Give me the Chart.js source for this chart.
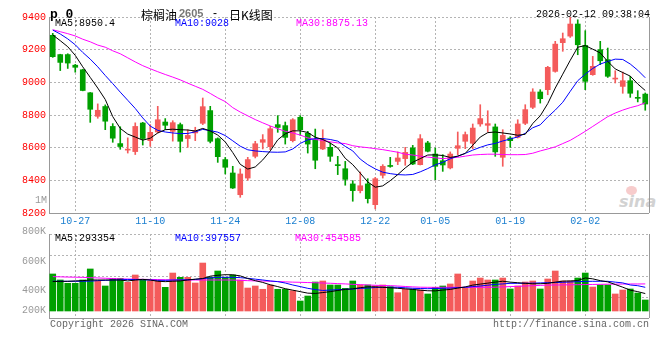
<!DOCTYPE html>
<html>
<head>
<meta charset="utf-8">
<script src="https://cdn.jsdelivr.net/npm/chart.js@4.4.1/dist/chart.umd.min.js"></script>
<style>
  body { margin: 0; background: #fff; }
  #wrap { position: relative; width: 660px; height: 360px; overflow: hidden; font-family: "Liberation Mono", monospace; font-size: 10px; }
  #wrap canvas { position: absolute; left: 0; }
  .t { position: absolute; white-space: nowrap; line-height: 1; }
  .r { text-align: right; }
</style>
</head>
<body>
<div id="wrap">
  <!-- sina watermark, sits under the candles -->
  <div class="t" style="left:626px;top:186px;width:11px;height:9px;border-radius:50%;background:#f7cccc;"></div>
  <span class="t" style="left:619px;top:192px;font:italic bold 16px 'DejaVu Sans';color:#d2d2d2;">sina</span>

  <canvas id="kline" width="660" height="232" style="top:0"></canvas>
  <canvas id="vol" width="660" height="90" style="top:230px"></canvas>

  <span class="t" style="left:50px;top:7px;font:bold 13px 'Liberation Mono';">p 0</span>
  <span class="t" style="left:141px;top:6px;font:12px 'Noto Sans CJK SC';">棕榈油</span>
  <span class="t" style="left:179px;top:7px;font:bold 11px 'Liberation Sans';color:#777;">2605</span>
  <span class="t" style="left:213px;top:6px;font:12px 'Liberation Sans';">-</span>
  <span class="t" style="left:229px;top:6px;font:12px 'Noto Sans CJK SC';">日K线图</span>
  <span class="t r" style="right:10px;top:10px;">2026-02-12 09:38:04</span>

  <span class="t" style="left:55px;top:19px;color:#000;">MA5:8950.4</span>
  <span class="t" style="left:175px;top:19px;color:#0000ff;">MA10:9028</span>
  <span class="t" style="left:296px;top:19px;color:#ff00ff;">MA30:8875.13</span>
  <span class="t r" style="right:613px;top:196px;color:#999;">1M</span>

  <span class="t" style="left:55px;top:234px;color:#000;">MA5:293354</span>
  <span class="t" style="left:175px;top:234px;color:#0000ff;">MA10:397557</span>
  <span class="t" style="left:295px;top:234px;color:#ff00ff;">MA30:454585</span>

  <span class="t r" style="right:614px;top:227px;color:#999;">800K</span>
  <span class="t r" style="right:614px;top:257px;color:#999;">600K</span>
  <span class="t r" style="right:614px;top:286px;color:#999;">400K</span>
  <span class="t r" style="right:614px;top:306px;color:#999;">200K</span>

  <span class="t" style="left:50px;top:320px;color:#666;">Copyright 2026 SINA.COM</span>
  <span class="t r" style="right:11px;top:320px;color:#666;">http://finance.sina.com.cn</span>
</div>

<script>
(function () {
    "use strict";

    // Trading days
    const dates = [
        '10-22', '10-23', '10-24', '10-27', '10-28', '10-29', '10-30', '10-31',
        '11-03', '11-04', '11-05', '11-06', '11-07', '11-10', '11-11', '11-12', '11-13', '11-14',
        '11-17', '11-18', '11-19', '11-20', '11-21', '11-24', '11-25', '11-26', '11-27', '11-28',
        '12-01', '12-02', '12-03', '12-04', '12-05', '12-08', '12-09', '12-10', '12-11', '12-12',
        '12-15', '12-16', '12-17', '12-18', '12-19', '12-22', '12-23', '12-24', '12-25', '12-26',
        '12-29', '12-30', '12-31',
        '01-05', '01-06', '01-07', '01-08', '01-09', '01-12', '01-13', '01-14', '01-15', '01-16',
        '01-19', '01-20', '01-21', '01-22', '01-23', '01-26', '01-27', '01-28', '01-29', '01-30',
        '02-02', '02-03', '02-04', '02-05', '02-06', '02-09', '02-10', '02-11', '02-12'
    ];
    const tickDates = ['10-27', '11-10', '11-24', '12-08', '12-22', '01-05', '01-19', '02-02'];

    // Daily K line
    const open = [
        9288, 9170, 9170, 9105, 9077, 8936, 8792, 8852, 8730, 8625,
        8585, 8576, 8751, 8643, 8696, 8757, 8700, 8741, 8656, 8690,
        8749, 8827, 8655, 8527, 8445, 8312, 8414, 8547, 8633, 8606,
        8741, 8735, 8643, 8786, 8688, 8649, 8592, 8602, 8495, 8471,
        8378, 8337, 8378, 8251, 8431, 8488, 8516, 8533, 8598, 8496,
        8629, 8561, 8520, 8476, 8596, 8639, 8627, 8745, 8737, 8727,
        8541, 8659, 8663, 8749, 8847, 8941, 8955, 9067, 9243, 9283,
        9357, 9226, 9047, 9200, 9139, 9020, 8975, 9010, 8906, 8928
    ];
    const high = [
        9300, 9172, 9175, 9110, 9080, 8938, 8868, 8862, 8747, 8728,
        8660, 8752, 8755, 8741, 8853, 8778, 8765, 8751, 8710, 8725,
        8904, 8853, 8660, 8540, 8486, 8470, 8541, 8639, 8680, 8731,
        8796, 8757, 8778, 8796, 8700, 8714, 8710, 8629, 8547, 8516,
        8398, 8451, 8410, 8418, 8496, 8541, 8574, 8602, 8614, 8680,
        8639, 8598, 8557, 8574, 8696, 8696, 8745, 8863, 8826, 8745,
        8710, 8668, 8771, 8863, 8961, 8955, 9098, 9251, 9302, 9398,
        9383, 9316, 9159, 9251, 9210, 9071, 9063, 9037, 8949, 8935
    ];
    const low = [
        9153, 9072, 9085, 9062, 8948, 8755, 8780, 8710, 8633, 8590,
        8567, 8558, 8616, 8608, 8690, 8712, 8640, 8573, 8602, 8643,
        8741, 8629, 8510, 8439, 8350, 8296, 8400, 8537, 8592, 8588,
        8694, 8622, 8635, 8676, 8567, 8471, 8588, 8516, 8435, 8370,
        8272, 8323, 8261, 8225, 8414, 8480, 8496, 8492, 8496, 8494,
        8574, 8404, 8455, 8470, 8557, 8594, 8594, 8731, 8696, 8547,
        8486, 8602, 8659, 8741, 8839, 8873, 8924, 9062, 9190, 9275,
        9169, 8955, 9043, 9108, 9030, 8996, 8933, 8908, 8880, 8829
    ];
    const close = [
        9157, 9122, 9118, 9092, 8950, 8835, 8829, 8762, 8658, 8607,
        8590, 8730, 8656, 8694, 8771, 8737, 8753, 8639, 8675, 8704,
        8851, 8639, 8545, 8480, 8353, 8439, 8527, 8624, 8649, 8716,
        8724, 8663, 8771, 8710, 8622, 8523, 8649, 8547, 8490, 8406,
        8337, 8367, 8288, 8410, 8486, 8485, 8537, 8571, 8500, 8655,
        8578, 8486, 8494, 8561, 8612, 8680, 8720, 8778, 8747, 8574,
        8675, 8643, 8745, 8833, 8941, 8900, 9092, 9234, 9267, 9357,
        9230, 9006, 9098, 9132, 9037, 9024, 9010, 8933, 8902, 8867
    ];

    // Moving averages as drawn
    const ma5 = [
        9290, 9255, 9218, 9165, 9095, 9030, 8965, 8895, 8790, 8718,
        8683, 8665, 8646, 8658, 8690, 8710, 8713, 8710, 8708, 8702,
        8718, 8702, 8677, 8635, 8570, 8498, 8469, 8482, 8525, 8580,
        8648, 8685, 8703, 8703, 8693, 8664, 8650, 8628, 8598, 8535,
        8496, 8444, 8390, 8358, 8366, 8398, 8435, 8476, 8511, 8533,
        8555, 8556, 8552, 8540, 8548, 8565, 8615, 8665, 8692, 8696,
        8690, 8684, 8676, 8682, 8748, 8795, 8870, 8965, 9050, 9135,
        9215, 9225, 9203, 9180, 9128, 9082, 9060, 9038, 8990, 8950
    ];
    const ma10 = [
        9320, 9296, 9266, 9230, 9183, 9142, 9095, 9042, 8992, 8940,
        8890, 8840, 8782, 8732, 8706, 8696, 8690, 8686, 8687, 8697,
        8712, 8704, 8695, 8674, 8642, 8609, 8587, 8580, 8576, 8573,
        8572, 8574, 8592, 8626, 8648, 8655, 8656, 8650, 8640, 8608,
        8580, 8530, 8496, 8470, 8450, 8441, 8435, 8433, 8436, 8452,
        8472, 8495, 8510, 8532, 8548, 8565, 8585, 8602, 8617, 8626,
        8641, 8653, 8666, 8688, 8722, 8740, 8788, 8830, 8878, 8945,
        9010, 9050, 9085, 9112, 9128, 9142, 9140, 9112, 9074, 9028
    ];
    const ma30 = [
        9322, 9310, 9298, 9284, 9264, 9248, 9228, 9215, 9193, 9175,
        9150, 9125, 9102, 9083, 9065, 9048, 9032, 9015, 8995, 8976,
        8957, 8932, 8905, 8882, 8845, 8818, 8795, 8772, 8752, 8733,
        8716, 8700, 8690, 8677, 8660, 8650, 8645, 8636, 8629, 8625,
        8612, 8605, 8600, 8594, 8588, 8580, 8572, 8560, 8555, 8548,
        8542, 8538, 8533, 8537, 8541, 8548, 8555, 8558, 8560, 8560,
        8558, 8557, 8557, 8558, 8566, 8580, 8592, 8605, 8625, 8645,
        8672, 8700, 8730, 8760, 8790, 8812, 8830, 8845, 8857, 8875
    ];

    // Volume, in thousands of lots
    const volume = [
        622, 521, 465, 465, 521, 706, 504, 420, 549, 549,
        482, 605, 521, 504, 504, 398, 638, 566, 566, 470,
        806, 566, 672, 566, 605, 521, 386, 420, 365, 437,
        365, 365, 341, 168, 252, 487, 504, 437, 437, 381,
        504, 437, 437, 420, 437, 408, 307, 365, 365, 353,
        286, 398, 420, 454, 622, 381, 504, 554, 521, 521,
        554, 370, 420, 487, 504, 370, 538, 672, 504, 504,
        554, 638, 403, 437, 437, 286, 353, 370, 302, 185
    ];
    const volMa5 = [
        495, 498, 499, 505, 510, 521, 521, 521, 521, 521,
        505, 520, 532, 520, 500, 493, 500, 505, 521, 535,
        545, 585, 600, 610, 608, 590, 545, 510, 480, 440,
        410, 375, 350, 325, 300, 295, 310, 325, 345, 362,
        372, 392, 405, 405, 398, 390, 381, 372, 362, 350,
        340, 338, 352, 362, 385, 405, 435, 452, 468, 485,
        500, 485, 475, 465, 457, 458, 465, 485, 502, 505,
        512, 555, 540, 510, 490, 445, 400, 350, 325, 293
    ];
    const volMa10 = [
        500, 499, 499, 499, 500, 502, 510, 515, 520, 525,
        530, 528, 525, 520, 515, 515, 520, 522, 525, 530,
        543, 555, 566, 566, 566, 560, 549, 535, 521, 505,
        493, 470, 437, 410, 381, 360, 345, 352, 358, 364,
        370, 380, 385, 395, 398, 398, 398, 390, 381, 378,
        375, 378, 381, 385, 392, 398, 410, 420, 433, 448,
        455, 465, 465, 466, 468, 472, 476, 478, 482, 487,
        493, 497, 499, 499, 499, 485, 472, 437, 425, 398
    ];
    const volMa30 = [
        577, 574, 570, 568, 565, 560, 555, 550, 545, 540,
        537, 534, 532, 530, 528, 525, 522, 521, 521, 521,
        521, 521, 521, 521, 520, 515, 510, 505, 504, 500,
        495, 490, 485, 482, 478, 475, 470, 466, 460, 455,
        448, 443, 437, 432, 428, 426, 420, 412, 405, 400,
        398, 398, 398, 398, 398, 398, 398, 398, 398, 400,
        405, 410, 415, 420, 425, 430, 435, 437, 438, 440,
        442, 444, 446, 448, 450, 452, 453, 454, 454, 455
    ];

    // Axis ranges
    const priceMin = 8200, priceMax = 9400, priceStep = 200;
    const volMin = -117.6, volMax = 1293.6;   // bars sit a few px above the panel floor

    const FONT = 'Liberation Mono';
    const GRID = '#b4b4b4';
    const FRAME = '#999999';
    const UP = '#f45b5b';
    const DOWN = '#00a000';

    const tickIdx = new Set(tickDates.map(d => dates.indexOf(d)));
    const colors = close.map((c, i) => c >= open[i] ? UP : DOWN);

    // Right side of the box
    const frame = {
        id: 'frame',
        beforeDatasetsDraw(chart) {
            const { ctx, chartArea: a } = chart;
            ctx.save();
            ctx.strokeStyle = FRAME;
            ctx.lineWidth = 1;
            ctx.beginPath();
            ctx.moveTo(Math.round(a.right) + 0.5, a.top);
            ctx.lineTo(Math.round(a.right) + 0.5, a.bottom);
            ctx.stroke();
            ctx.restore();
        }
    };

    function xAxis(showLabels) {
        return {
            type: 'category',
            offset: true,
            grid: {
                offset: false,
                drawTicks: false,
                color: GRID,
                lineWidth: c => tickIdx.has(c.index) ? 1 : 0
            },
            border: { color: FRAME, dash: [2, 2] },
            ticks: {
                display: showLabels,
                autoSkip: false,
                maxRotation: 0,
                padding: 2,
                color: '#1a7fd0',
                font: { family: FONT, size: 10 },
                callback: (v, i) => tickIdx.has(i) ? dates[i] : ''
            },
            afterFit: s => { s.height = showLabels ? 19 : 0; }
        };
    }

    function maLine(data, color) {
        return {
            type: 'line',
            data: data,
            borderColor: color,
            borderWidth: 1,
            pointRadius: 0,
            tension: 0,
            order: 0
        };
    }

    const common = {
        responsive: false,
        animation: false,
        events: [],
        plugins: { legend: { display: false }, tooltip: { enabled: false } }
    };

    // Price panel
    new Chart(document.getElementById('kline'), {
        type: 'bar',
        data: {
            labels: dates,
            datasets: [
                maLine(ma5, '#000000'),
                maLine(ma10, '#0000ff'),
                maLine(ma30, '#ff00ff'),
                {
                    data: dates.map((d, i) => [open[i], close[i]]),
                    backgroundColor: colors,
                    barThickness: 5,
                    minBarLength: 1,
                    grouped: false,
                    order: 1
                },
                {
                    data: dates.map((d, i) => [low[i], high[i]]),
                    backgroundColor: colors,
                    barThickness: 1,
                    grouped: false,
                    order: 2
                }
            ]
        },
        options: Object.assign({}, common, {
            layout: { padding: { top: 17, right: 11, left: 0, bottom: 0 } },
            scales: {
                x: xAxis(true),
                y: {
                    min: priceMin,
                    max: priceMax,
                    ticks: {
                        stepSize: priceStep,
                        color: '#ff0000',
                        padding: 3,
                        font: { family: FONT, size: 10 },
                        callback: v => String(v)
                    },
                    grid: { color: GRID, drawTicks: false },
                    border: { color: FRAME, dash: [2, 2] },
                    afterFit: s => { s.width = 49; }
                }
            }
        }),
        plugins: [frame]
    });

    // Volume panel
    new Chart(document.getElementById('vol'), {
        type: 'bar',
        data: {
            labels: dates,
            datasets: [
                maLine(volMa5, '#000000'),
                maLine(volMa10, '#0000ff'),
                maLine(volMa30, '#ff00ff'),
                {
                    data: volume,
                    backgroundColor: colors,
                    barThickness: 6,
                    order: 1
                }
            ]
        },
        options: Object.assign({}, common, {
            layout: { padding: { top: 4, right: 11, left: 0, bottom: 2 } },
            scales: {
                x: xAxis(false),
                y: {
                    min: volMin,
                    max: volMax,
                    afterBuildTicks: s => {
                        s.ticks = [0, 1, 2, 3, 4].map(k => ({ value: volMin + k * (volMax - volMin) / 4 }));
                    },
                    ticks: { display: false },
                    grid: { color: GRID, drawTicks: false },
                    border: { color: FRAME, dash: [2, 2] },
                    afterFit: s => { s.width = 49; }
                }
            }
        }),
        plugins: [frame]
    });
})();
</script>
</body>
</html>
